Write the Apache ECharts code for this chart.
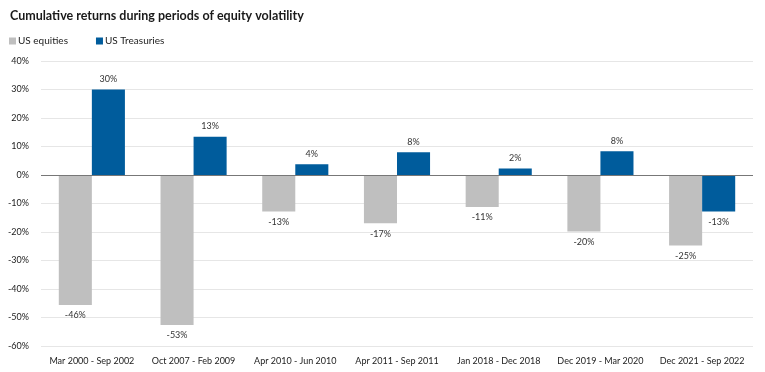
<!DOCTYPE html>
<html><head><meta charset="utf-8">
<script src="https://cdn.jsdelivr.net/npm/echarts@6/dist/echarts.min.js"></script>
<style>html,body{margin:0;padding:0;background:#fff}#c{width:765px;height:372px}</style>
</head><body><div id="c"></div>
<script>
const categories = ["Mar 2000 - Sep 2002","Oct 2007 - Feb 2009","Apr 2010 - Jun 2010","Apr 2011 - Sep 2011","Jan 2018 - Dec 2018","Dec 2019 - Mar 2020","Dec 2021 - Sep 2022"];
const usEquities = [-45.6, -52.6, -12.8, -16.9, -11.2, -19.8, -24.7];
const usTreasuries = [30, 13.4, 3.8, 8, 2.3, 8.3, -12.8];
const yTicks = [-60, 40, 10];

const chart = echarts.init(document.getElementById('c'));
const lbl = {show:true, fontSize:9, color:'#333', fontFamily:'Lato', formatter: p => Math.round(p.value) + '%'};
function mk(name, data, color){
  return {name, type:'bar', data: data.map(v => ({value:v, label:{position: v<0?'bottom':'top', distance:6}})),
    itemStyle:{color}, barGap:'0%', barCategoryGap:'35%', label: lbl};
}
chart.setOption({
  animation:false,
  title:{text:'Cumulative returns during periods of equity volatility', left:5, top:4,
    textStyle:{fontSize:12.5, fontWeight:'bold', color:'#1a1a1a', fontFamily:'Lato'}},
  legend:{left:4, top:31, itemWidth:7, itemHeight:7, itemGap:28, icon:'rect',
    textStyle:{fontSize:10, color:'#222', fontFamily:'Lato', padding:[0,0,0,-3]}},
  grid:{left:41, right:12, top:61, bottom:26},
  xAxis:{type:'category', data:categories, axisTick:{show:false}, axisLine:{show:false},
    axisLabel:{fontSize:9, color:'#222', fontFamily:'Lato', interval:0, margin:11}},
  yAxis:{type:'value', min:yTicks[0], max:yTicks[1], interval:yTicks[2],
    axisLabel:{fontSize:9, color:'#222', fontFamily:'Lato', formatter:'{value}%', margin:12},
    splitLine:{lineStyle:{color:'#e6e6e6'}}, axisLine:{show:false}},
  series:[
    Object.assign(mk('US equities', usEquities, '#bfbfbf'), {markLine:{silent:true, symbol:'none', label:{show:false}, lineStyle:{color:'#777', type:'solid', width:1}, data:[{yAxis:0}]}}),
    mk('US Treasuries', usTreasuries, '#005c9c')
  ]
});
</script></body></html>
